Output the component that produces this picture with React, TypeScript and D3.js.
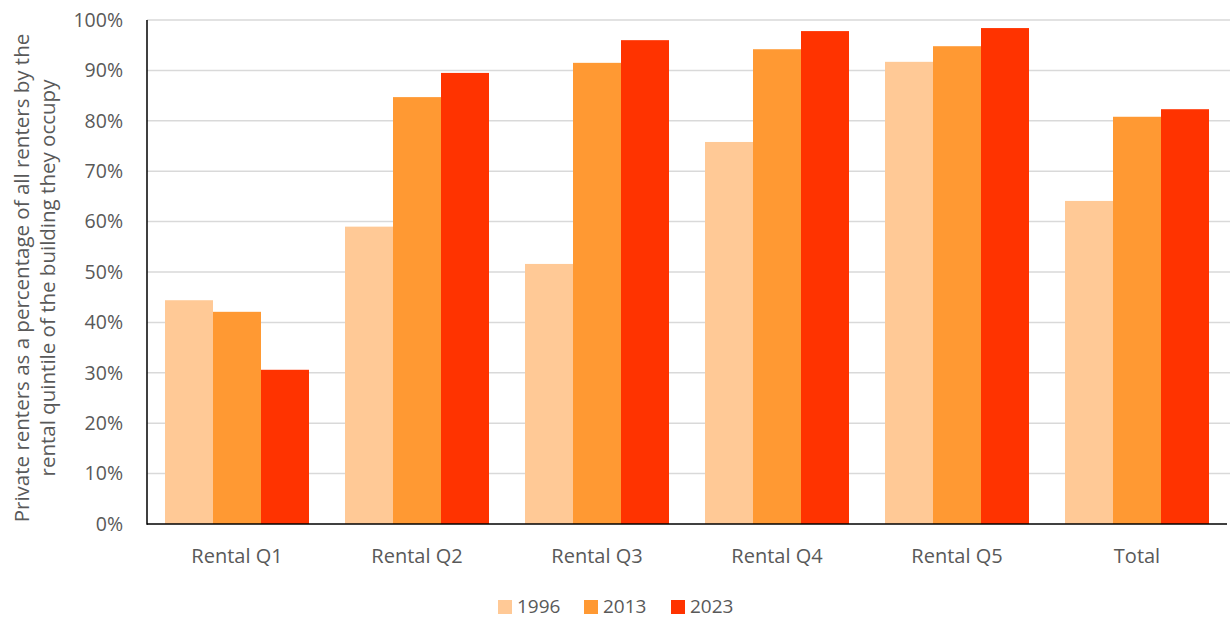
import React from "react";
import * as d3 from "d3";

const categories = ["Rental Q1", "Rental Q2", "Rental Q3", "Rental Q4", "Rental Q5", "Total"];
const seriesNames = ["1996", "2013", "2023"];
const values1996 = [44.4, 59.0, 51.6, 75.8, 91.7, 64.1];
const values2013 = [42.1, 84.7, 91.5, 94.2, 94.8, 80.8];
const values2023 = [30.6, 89.5, 96.0, 97.8, 98.4, 82.3];
const colors = ["#FFC996", "#FF9933", "#FF3300"];
const yTicks = [0, 10, 20, 30, 40, 50, 60, 70, 80, 90, 100];
const yTitle = ["Private renters as a percentage of all renters by the", "rental quintile of the building they occupy"];

const W = 1232, H = 619;
const M = { left: 147, right: 1227, top: 20, bottom: 524 };
const FONT = "'Open Sans', 'Liberation Sans', sans-serif";

export default function App() {
  const series = [values1996, values2013, values2023];
  const x = d3.scaleBand<string>().domain(categories).range([M.left, M.right]).paddingInner(0.2).paddingOuter(0.1);
  const xs = d3.scaleBand<string>().domain(seriesNames).range([0, x.bandwidth()]);
  const y = d3.scaleLinear().domain([0, 100]).range([M.bottom, M.top]);
  const legendX = [498, 584, 671];
  return (
    <svg width={W} height={H} style={{ position: "absolute", left: 0, top: 0, background: "#fff" }}>
      {yTicks.map((t) => (
        <g key={t}>
          {t > 0 && <line x1={M.left} x2={1230} y1={y(t)} y2={y(t)} stroke="#d9d9d9" strokeWidth={1.5} />}
          <text x={123} y={y(t)} dy="0.35em" textAnchor="end" fontFamily={FONT} fontSize={19.5} fill="#595959">{t}%</text>
        </g>
      ))}
      {categories.map((c, i) => (
        <g key={c}>
          {series.map((s, j) => (
            <rect key={j} x={(x(c) as number) + (xs(seriesNames[j]) as number)} y={y(s[i])}
              width={xs.bandwidth()} height={M.bottom - y(s[i])} fill={colors[j]} />
          ))}
          <text x={(x(c) as number) + x.bandwidth() / 2} y={556} dy="0.35em" textAnchor="middle" fontFamily={FONT} fontSize={20} fill="#595959">{c}</text>
        </g>
      ))}
      <line x1={M.left} x2={M.left} y1={M.top} y2={M.bottom + 0.75} stroke="#000" strokeWidth={1.5} />
      <line x1={M.left} x2={M.right} y1={M.bottom} y2={M.bottom} stroke="#000" strokeWidth={1.5} />
      {yTitle.map((line, i) => (
        <text key={i} transform={`translate(${22 + i * 26},${278}) rotate(-90)`} dy="0.35em" textAnchor="middle"
          fontFamily={FONT} fontSize={20.5} fill="#595959">{line}</text>
      ))}
      {seriesNames.map((n, j) => (
        <g key={n}>
          <rect x={legendX[j]} y={600} width={14} height={14} fill={colors[j]} />
          <text x={legendX[j] + 19} y={606} dy="0.35em" fontFamily={FONT} fontSize={19} fill="#595959">{n}</text>
        </g>
      ))}
    </svg>
  );
}
